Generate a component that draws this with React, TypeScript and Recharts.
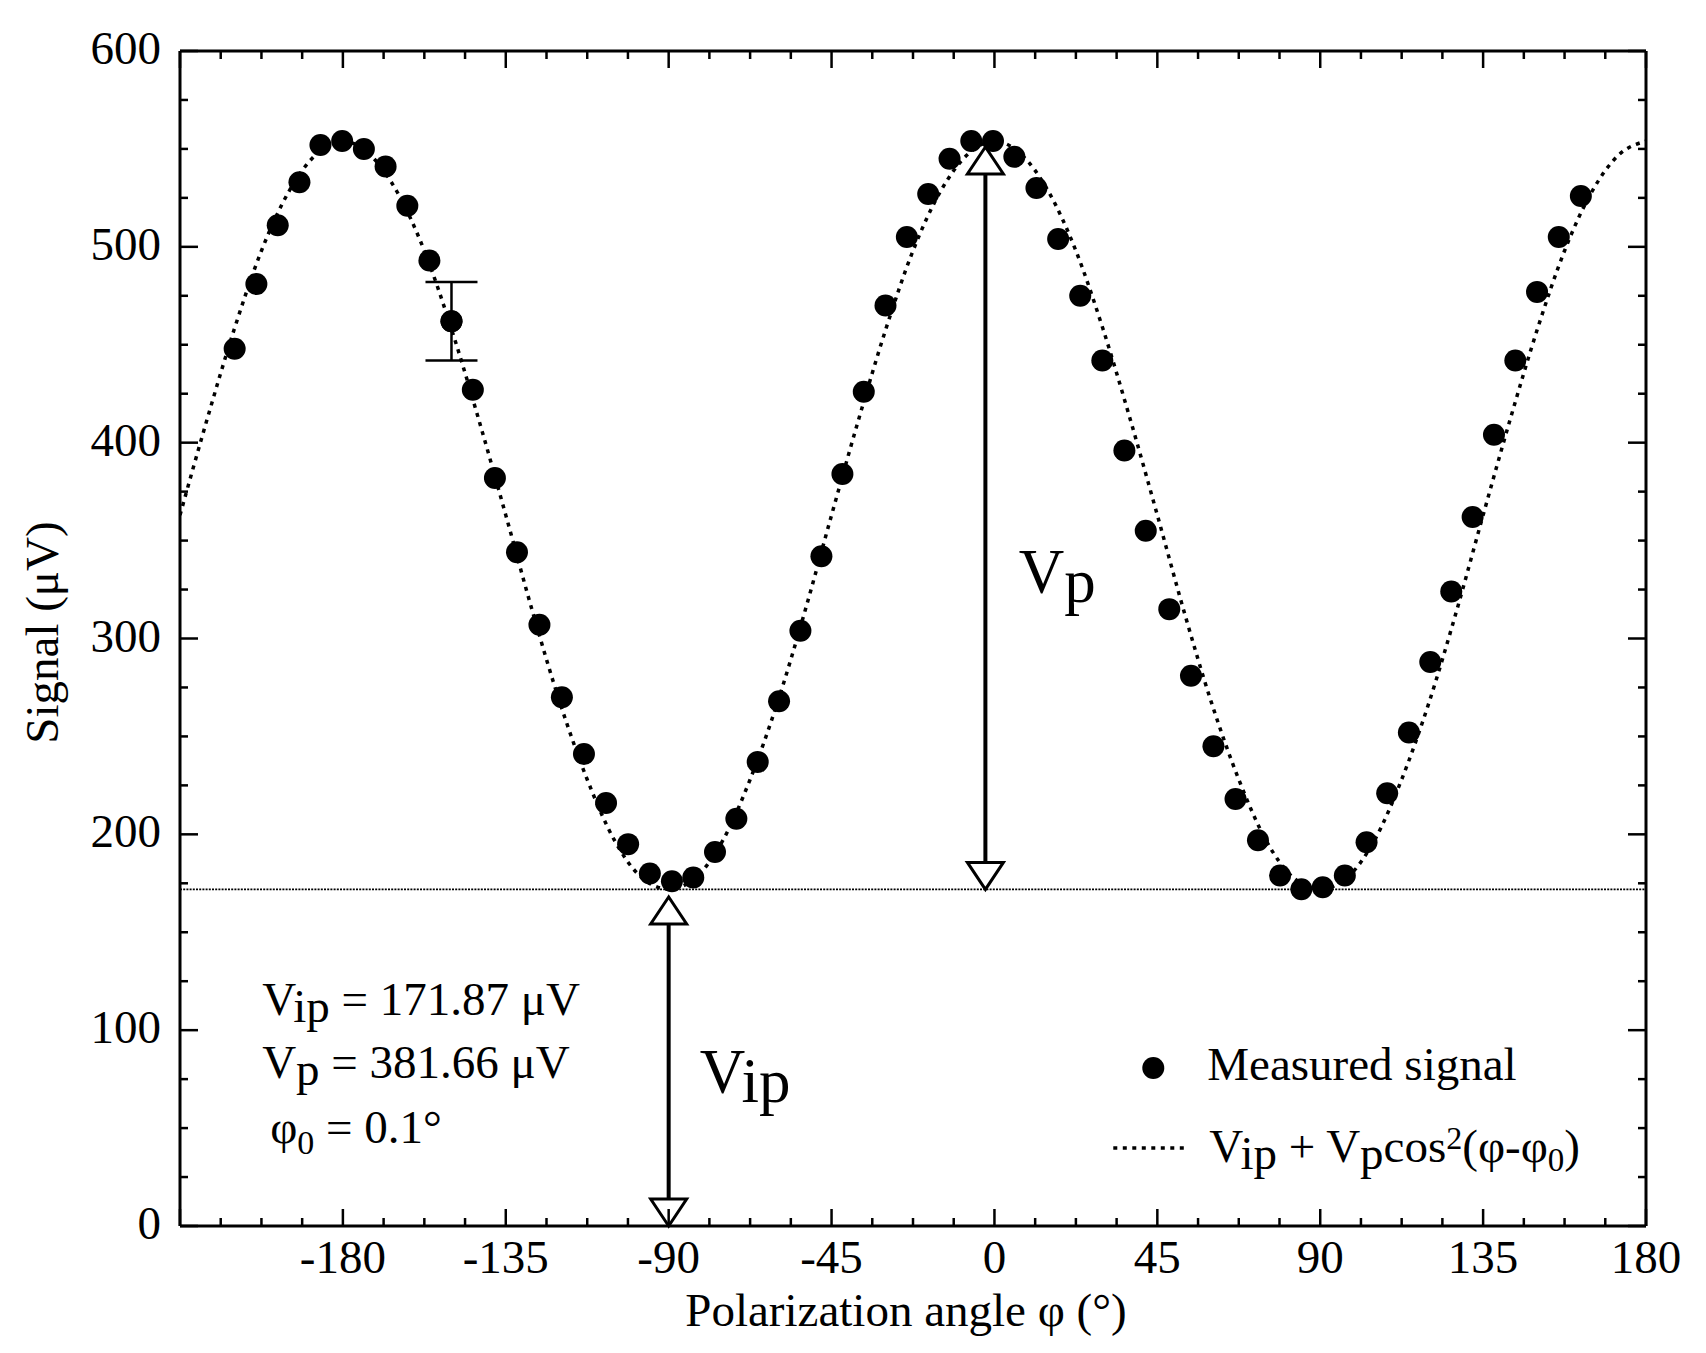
import {
  ComposedChart,
  Line,
  Scatter,
  XAxis,
  YAxis,
  ErrorBar,
  ReferenceLine,
  ReferenceDot,
} from 'recharts'

const SERIF = '"Liberation Serif", "Times New Roman", serif'

// measured points (polarization angle in degrees, signal in µV)
const phiMeasured = [
  -209.9, -203.9, -198.0, -192.0, -186.2, -180.2, -174.2, -168.2, -162.2, -156.1, -150.0,
  -144.1, -138.0, -131.9, -125.7, -119.5, -113.4, -107.3, -101.2, -95.2, -89.1, -83.2,
  -77.2, -71.3, -65.4, -59.5, -53.6, -47.8, -42.0, -36.1, -30.1, -24.2, -18.3, -12.4,
  -6.4, -0.4, 5.5, 11.6, 17.6, 23.7, 29.8, 35.9, 41.8, 48.3, 54.3, 60.5, 66.6, 72.8,
  78.9, 84.8, 90.7, 96.8, 102.8, 108.5, 114.5, 120.4, 126.2, 132.1, 138.0, 143.9, 149.9,
  155.9, 162.0,
]
const signalMeasured = [
  448, 481, 511, 533, 552, 554, 550, 541, 521, 493, 462,
  427, 382, 344, 307, 270, 241, 216, 195, 180, 176, 178,
  191, 208, 237, 268, 304, 342, 384, 426, 470, 505, 527, 545,
  554, 554, 546, 530, 504, 475, 442, 396, 355, 315, 281, 245, 218, 197,
  179, 172, 173, 179, 196, 221, 252, 288, 324, 362, 404, 442, 477,
  505, 526,
]

// the one point drawn with an error bar
const errPhi = [-150.0]
const errSignal = [462]
const errSize = [20]

// fitted curve
const phiFit = [
  -225, -217.5, -210, -202.5, -195, -187.5, -180, -172.5, -165, -157.5, -150, -142.5, -135,
  -127.5, -120, -112.5, -105, -97.5, -90, -82.5, -75, -67.5, -60, -52.5, -45, -37.5, -30,
  -22.5, -15, -7.5, 0, 7.5, 15, 22.5, 30, 37.5, 45, 52.5, 60, 67.5, 75, 82.5, 90, 97.5, 105,
  112.5, 120, 127.5, 135, 142.5, 150, 157.5, 165, 172.5, 180,
]
const signalFit = [
  363, 412, 458, 498, 528, 547, 554, 547, 528, 498, 458, 412, 363,
  313, 267, 228, 197, 178, 172, 178, 197, 228, 267, 313, 363, 412, 458,
  498, 528, 547, 554, 547, 528, 498, 458, 412, 363, 313, 267, 228, 197, 178, 172, 178, 197,
  228, 267, 313, 363, 412, 458, 498, 528, 547, 554,
]

const vip = 171.87
const xMajor = [-180, -135, -90, -45, 0, 45, 90, 135, 180]
const xTicks = Array.from({ length: 37 }, (_, i) => -225 + i * 11.25)
const yTicks = Array.from({ length: 25 }, (_, i) => i * 25)

const measured = phiMeasured.map((phi, i) => ({ phi, signal: signalMeasured[i] }))
const withError = errPhi.map((phi, i) => ({ phi, signal: errSignal[i], err: errSize[i] }))
const fit = phiFit.map((phi, i) => ({ phi, signal: signalFit[i] }))

const FONT = 47

const BottomTick = (p: any) => {
  const v = p.payload.value
  const major = v % 45 === 0
  return (
    <g>
      <line x1={p.x} y1={p.y} x2={p.x} y2={p.y - (major ? 17 : 8)} stroke="#000" strokeWidth={2.5} />
      {major && xMajor.includes(v) && (
        <text x={p.x} y={p.y + 47} textAnchor="middle" fontSize={FONT} fontFamily={SERIF} fill="#000">
          {v}
        </text>
      )}
    </g>
  )
}

const TopTick = (p: any) => {
  const major = p.payload.value % 45 === 0
  return <line x1={p.x} y1={p.y} x2={p.x} y2={p.y + (major ? 17 : 8)} stroke="#000" strokeWidth={2.5} />
}

const LeftTick = (p: any) => {
  const v = p.payload.value
  const major = v % 100 === 0
  return (
    <g>
      <line x1={p.x} y1={p.y} x2={p.x + (major ? 18 : 8)} y2={p.y} stroke="#000" strokeWidth={2.5} />
      {major && (
        <text x={p.x - 19} y={p.y + 13} textAnchor="end" fontSize={FONT} fontFamily={SERIF} fill="#000">
          {v}
        </text>
      )}
    </g>
  )
}

const RightTick = (p: any) => {
  const major = p.payload.value % 100 === 0
  return <line x1={p.x} y1={p.y} x2={p.x - (major ? 18 : 8)} y2={p.y} stroke="#000" strokeWidth={2.5} />
}

const Dot = (p: any) => <circle cx={p.cx} cy={p.cy} r={11} fill="#000" />

const DoubleArrow = (p: any) => {
  const x = p.x1
  const top = Math.min(p.y1, p.y2)
  const bottom = Math.max(p.y1, p.y2)
  const h = 27
  const w = 18
  return (
    <g>
      <line x1={x} y1={top + h} x2={x} y2={bottom - h} stroke="#000" strokeWidth={4} />
      <polygon points={`${x},${top} ${x - w},${top + h} ${x + w},${top + h}`} fill="#fff" stroke="#000" strokeWidth={3} />
      <polygon points={`${x},${bottom} ${x - w},${bottom - h} ${x + w},${bottom - h}`} fill="#fff" stroke="#000" strokeWidth={3} />
    </g>
  )
}

const textStyle = { whiteSpace: 'pre' as const }

const ParamBlock = (p: any) => (
  <text x={p.cx} y={p.cy} fontSize={FONT} fontFamily={SERIF} fill="#000" style={textStyle}>
    <tspan x={p.cx} y={p.cy}>V</tspan>
    <tspan dy={7}>ip</tspan>
    <tspan dy={-7}> = 171.87 μV</tspan>
    <tspan x={p.cx} y={p.cy + 63}>V</tspan>
    <tspan dy={7}>p</tspan>
    <tspan dy={-7}> = 381.66 μV</tspan>
    <tspan x={p.cx + 8} y={p.cy + 128}>φ</tspan>
    <tspan dy={11} fontSize={34}>0</tspan>
    <tspan dy={-11}> = 0.1°</tspan>
  </text>
)

const BigLabel = (sub: string) => (p: any) => (
  <text x={p.cx} y={p.cy} fontSize={63} fontFamily={SERIF} fill="#000">
    <tspan>V</tspan>
    <tspan dy={9}>{sub}</tspan>
  </text>
)

const LegendBox = (p: any) => {
  const x = p.cx
  const y = p.cy
  const y2 = y + 82
  return (
    <g fontFamily={SERIF} fill="#000" style={textStyle}>
      <circle cx={x - 54} cy={y - 12} r={11} fill="#000" />
      <text x={x} y={y} fontSize={FONT}>Measured signal</text>
      <line x1={x - 94} y1={y2 - 14} x2={x - 21} y2={y2 - 14} stroke="#000" strokeWidth={3.5} strokeDasharray="4 5.5" />
      <text x={x + 2} y={y2} fontSize={FONT}>
        <tspan>V</tspan>
        <tspan dy={7}>ip</tspan>
        <tspan dy={-7}> + V</tspan>
        <tspan dy={7}>p</tspan>
        <tspan dy={-7}>cos</tspan>
        <tspan dy={-13} fontSize={32}>2</tspan>
        <tspan dy={13}>(φ-φ</tspan>
        <tspan dy={9} fontSize={33}>0</tspan>
        <tspan dy={-9}>)</tspan>
      </text>
    </g>
  )
}

export default function App() {
  return (
    <ComposedChart width={1690} height={1337} margin={{ top: 42, right: 51, bottom: 39, left: 72 }}>
      <XAxis
        type="number"
        dataKey="phi"
        domain={[-225, 180]}
        ticks={xTicks}
        interval={0}
        allowDataOverflow
        tickSize={0}
        tickMargin={0}
        tickLine={false}
        tick={<BottomTick />}
        axisLine={{ stroke: '#000', strokeWidth: 3 }}
        height={80}
        label={{
          content: (p: any) => (
            <text
              x={p.viewBox.x + p.viewBox.width / 2 - 7}
              y={p.viewBox.y + 100}
              textAnchor="middle"
              fontSize={FONT}
              fontFamily={SERIF}
              fill="#000"
            >
              Polarization angle φ (°)
            </text>
          ),
        }}
      />
      <XAxis
        xAxisId="top"
        orientation="top"
        type="number"
        dataKey="phi"
        domain={[-225, 180]}
        ticks={xTicks}
        interval={0}
        allowDataOverflow
        tickSize={0}
        tickMargin={0}
        tickLine={false}
        tick={<TopTick />}
        axisLine={{ stroke: '#000', strokeWidth: 3 }}
        height={1}
      />
      <YAxis
        type="number"
        domain={[0, 600]}
        ticks={yTicks}
        interval={0}
        allowDataOverflow
        tickSize={0}
        tickMargin={0}
        tickLine={false}
        tick={<LeftTick />}
        axisLine={{ stroke: '#000', strokeWidth: 3 }}
        width={100}
        label={{
          content: (p: any) => {
            const cx = p.viewBox.x - 22
            const cy = p.viewBox.y + p.viewBox.height / 2 - 6
            return (
              <text
                x={cx}
                y={cy}
                transform={`rotate(-90 ${cx} ${cy})`}
                textAnchor="middle"
                fontSize={FONT}
                fontFamily={SERIF}
                fill="#000"
              >
                Signal (μV)
              </text>
            )
          },
        }}
      />
      <YAxis
        yAxisId="right"
        orientation="right"
        type="number"
        domain={[0, 600]}
        ticks={yTicks}
        interval={0}
        allowDataOverflow
        tickSize={0}
        tickMargin={0}
        tickLine={false}
        tick={<RightTick />}
        axisLine={{ stroke: '#000', strokeWidth: 3 }}
        width={1}
      />

      <ReferenceLine y={vip} stroke="#000" strokeWidth={1.8} strokeDasharray="2 1.2" />

      <Line
        data={fit}
        dataKey="signal"
        type="monotone"
        stroke="#000"
        strokeWidth={3.5}
        strokeDasharray="4 5.5"
        dot={false}
        activeDot={false}
        isAnimationActive={false}
      />

      <Scatter data={measured} dataKey="signal" shape={Dot} isAnimationActive={false} />
      <Scatter data={withError} dataKey="signal" shape={Dot} isAnimationActive={false}>
        <ErrorBar dataKey="err" direction="y" width={26} strokeWidth={2.5} stroke="#000" isAnimationActive={false} />
      </Scatter>

      <ReferenceLine segment={[{ x: -2.5, y: vip }, { x: -2.5, y: 551 }]} shape={DoubleArrow} />
      <ReferenceLine segment={[{ x: -90, y: 0 }, { x: -90, y: 168 }]} shape={DoubleArrow} />

      <ReferenceDot x={6.7} y={323} shape={BigLabel('p')} />
      <ReferenceDot x={-81.4} y={68} shape={BigLabel('ip')} />
      <ReferenceDot x={-202.3} y={108} shape={ParamBlock} />
      <ReferenceDot x={58.8} y={74.6} shape={LegendBox} />
    </ComposedChart>
  )
}
